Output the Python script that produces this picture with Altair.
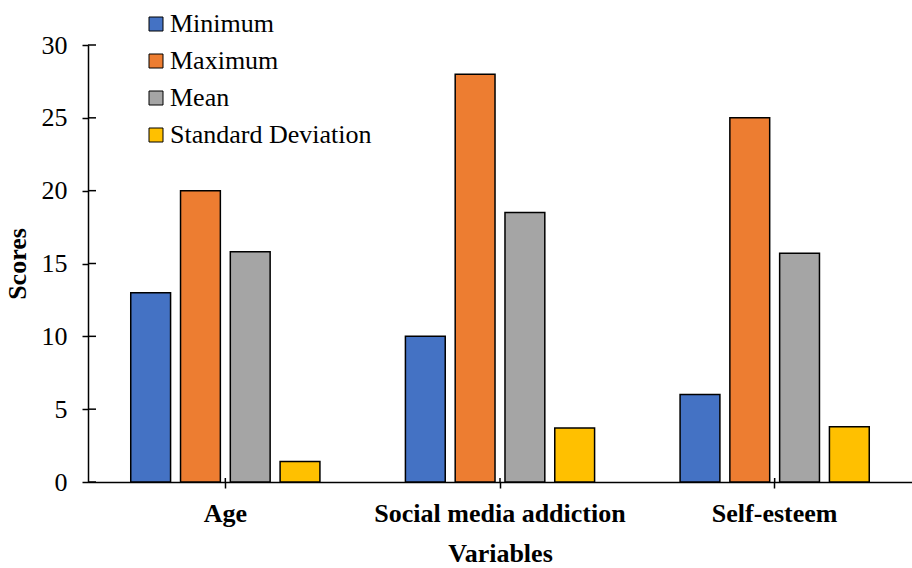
import altair as alt
import pandas as pd

variables = ["Age", "Social media addiction", "Self-esteem"]
stats = ["Minimum", "Maximum", "Mean", "Standard Deviation"]
minimum = [13, 10, 6]
maximum = [20, 28, 25]
mean = [15.8, 18.5, 15.7]
sd = [1.4, 3.7, 3.8]
colors = ["#4472C4", "#ED7D31", "#A5A5A5", "#FFC000"]
y_ticks = [0, 5, 10, 15, 20, 25, 30]

rows = []
for i, v in enumerate(variables):
    for s, vals in zip(stats, [minimum, maximum, mean, sd]):
        rows.append({"Variable": v, "Statistic": s, "Score": vals[i]})
df = pd.DataFrame(rows)
ytick_df = pd.DataFrame({"Score": y_ticks})
xtick_df = pd.DataFrame({"Variable": variables})

font = "Liberation Serif"
W, H = 824, 437

x_enc = alt.X(
    "Variable:N", sort=variables,
    scale=alt.Scale(domain=variables, paddingInner=0.275, paddingOuter=0.1375),
    axis=alt.Axis(
        title="Variables", labelAngle=0, labelFont=font, labelFontSize=26,
        labelFontWeight="bold", labelColor="black", labelLimit=0, titleFont=font,
        titleFontSize=26, titleFontWeight="bold", titleColor="black",
        domainColor="black", domainWidth=1.5, tickColor="black", tickWidth=1.5,
        tickSize=6, labelPadding=12, titlePadding=14, grid=False,
    ),
)
y_enc = alt.Y(
    "Score:Q",
    scale=alt.Scale(domain=[0, 30], nice=False),
    axis=alt.Axis(
        title="Scores", values=y_ticks, grid=False, labelFont=font,
        labelFontSize=26, labelColor="black", titleFont=font, titleFontSize=26,
        titleFontWeight="bold", titleColor="black", domainColor="black",
        domainWidth=1.5, tickColor="black", tickWidth=1.5, tickSize=6,
        labelPadding=15, titlePadding=11,
    ),
)

bars = alt.Chart(df).mark_bar(stroke="black", strokeWidth=1.5).encode(
    x=x_enc,
    xOffset=alt.XOffset("Statistic:N", sort=stats,
                        scale=alt.Scale(domain=stats, paddingInner=0.2, paddingOuter=0.1)),
    y=y_enc,
    color=alt.Color(
        "Statistic:N", sort=stats,
        scale=alt.Scale(domain=stats, range=colors),
        legend=alt.Legend(
            title=None, orient="none", legendX=55, legendY=-34,
            symbolType="square", symbolSize=196, symbolStrokeColor="black",
            symbolStrokeWidth=1, labelFont=font, labelFontSize=26,
            labelColor="black", labelOffset=1, rowPadding=11, labelLimit=0,
        ),
    ),
)

yticks_in = alt.Chart(ytick_df).mark_rule(color="black", strokeWidth=1.5).encode(
    y=alt.Y("Score:Q"), x=alt.value(0), x2=alt.value(8)
)
xticks_in = alt.Chart(xtick_df).mark_rule(color="black", strokeWidth=1.5).encode(
    x=alt.X("Variable:N", sort=variables), y=alt.value(H - 4), y2=alt.value(H)
)

chart = alt.layer(bars, yticks_in, xticks_in).properties(
    width=W, height=H,
    background="white",
    autosize=alt.AutoSizeParams(type="none"),
    padding={"left": 88, "top": 45, "right": 0, "bottom": 86},
).configure_view(strokeWidth=0, stroke="transparent").configure_axis(grid=False)

chart.save("out.html", embed_options={"renderer": "svg", "actions": False})
